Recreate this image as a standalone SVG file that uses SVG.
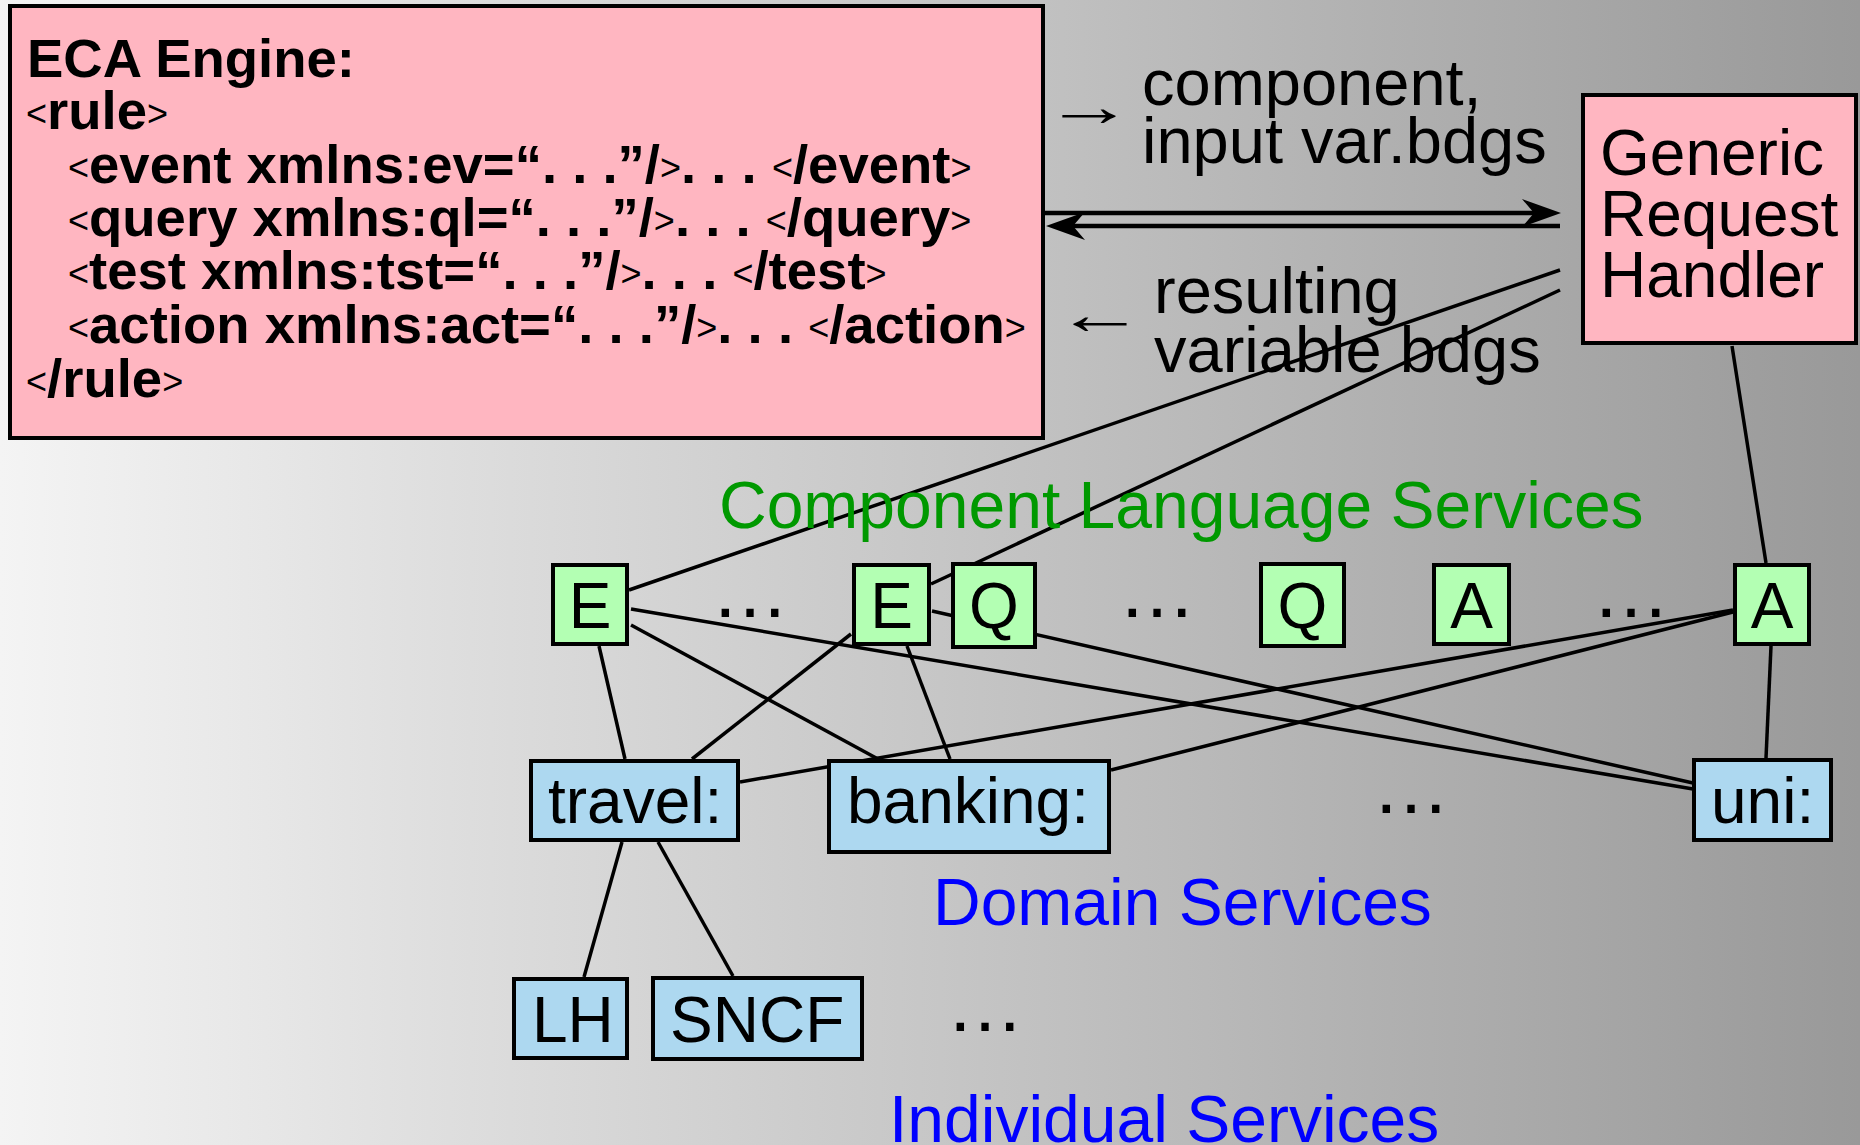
<svg xmlns="http://www.w3.org/2000/svg" width="1860" height="1145" viewBox="0 0 1860 1145">
<defs>
<linearGradient id="bg" x1="0" y1="0" x2="1" y2="0">
<stop offset="0" stop-color="#f4f4f4"/>
<stop offset="1" stop-color="#999999"/>
</linearGradient>
<style>
.box{stroke:#000;stroke-width:4}
.pink{fill:#ffb6c1}
.green{fill:#b3ffb3}
.blue{fill:#add8f0}
.t{font-family:"Liberation Sans",Arial,sans-serif;font-size:64px;fill:#000}
.c{text-anchor:middle}
.b{font-family:"Liberation Sans",Arial,sans-serif;font-size:54.5px;font-weight:bold;fill:#000}
.lt{font-weight:normal;font-size:36px}
.lbl{font-family:"Liberation Sans",Arial,sans-serif;font-size:66px}
.dots{font-family:"Liberation Sans",Arial,sans-serif;font-size:78px;fill:#000;text-anchor:middle}
.ln{stroke:#000;stroke-width:3.5;fill:none}
.arr{stroke:#000;stroke-width:4.5;fill:none}
</style>
</defs>
<rect x="0" y="0" width="1860" height="1145" fill="url(#bg)"/>

<g id="connectors">
<line class="arr" x1="1045" y1="213" x2="1540" y2="213"/>
<path d="M1561,213 L1522,199 L1534,213 L1522,227 Z" fill="#000"/>
<line class="arr" x1="1066" y1="226" x2="1560" y2="226"/>
<path d="M1046,226 L1085,212 L1073,226 L1085,240 Z" fill="#000"/>
<line class="ln" x1="1560" y1="270" x2="629" y2="590"/>
<line class="ln" x1="1560" y1="290" x2="931" y2="584"/>
<line class="ln" x1="1732" y1="346" x2="1766" y2="563"/>
<line class="ln" x1="599" y1="646" x2="625" y2="759"/>
<line class="ln" x1="631" y1="625" x2="878" y2="759"/>
<line class="ln" x1="631" y1="609" x2="1693" y2="789"/>
<line class="ln" x1="851" y1="634" x2="692" y2="759"/>
<line class="ln" x1="907" y1="646" x2="950" y2="759"/>
<line class="ln" x1="932" y1="611" x2="1693" y2="783"/>
<line class="ln" x1="1733" y1="610" x2="740" y2="782"/>
<line class="ln" x1="1733" y1="612" x2="1111" y2="770"/>
<line class="ln" x1="1771" y1="646" x2="1766" y2="758"/>
<line class="ln" x1="622" y1="842" x2="584" y2="977"/>
<line class="ln" x1="658" y1="842" x2="733" y2="976"/>
</g>

<g id="eca-engine">
<rect class="box pink" x="10" y="6" width="1033" height="432"/>
<text class="b" x="27" y="77">ECA Engine:</text>
<text class="b" x="26" y="129"><tspan class="lt" dy="-3">&lt;</tspan><tspan dy="3">rule</tspan><tspan class="lt" dy="-3">&gt;</tspan></text>
<text class="b" x="68" y="183"><tspan class="lt" dy="-3">&lt;</tspan><tspan dy="3">event xmlns:ev=“. . .”/</tspan><tspan class="lt" dy="-3">&gt;</tspan><tspan dy="3">. . . </tspan><tspan class="lt" dy="-3">&lt;</tspan><tspan dy="3">/event</tspan><tspan class="lt" dy="-3">&gt;</tspan></text>
<text class="b" x="68" y="236"><tspan class="lt" dy="-3">&lt;</tspan><tspan dy="3">query xmlns:ql=“. . .”/</tspan><tspan class="lt" dy="-3">&gt;</tspan><tspan dy="3">. . . </tspan><tspan class="lt" dy="-3">&lt;</tspan><tspan dy="3">/query</tspan><tspan class="lt" dy="-3">&gt;</tspan></text>
<text class="b" x="68" y="289"><tspan class="lt" dy="-3">&lt;</tspan><tspan dy="3">test xmlns:tst=“. . .”/</tspan><tspan class="lt" dy="-3">&gt;</tspan><tspan dy="3">. . . </tspan><tspan class="lt" dy="-3">&lt;</tspan><tspan dy="3">/test</tspan><tspan class="lt" dy="-3">&gt;</tspan></text>
<text class="b" x="68" y="343"><tspan class="lt" dy="-3">&lt;</tspan><tspan dy="3">action xmlns:act=“. . .”/</tspan><tspan class="lt" dy="-3">&gt;</tspan><tspan dy="3">. . . </tspan><tspan class="lt" dy="-3">&lt;</tspan><tspan dy="3">/action</tspan><tspan class="lt" dy="-3">&gt;</tspan></text>
<text class="b" x="26" y="397"><tspan class="lt" dy="-3">&lt;</tspan><tspan dy="3">/rule</tspan><tspan class="lt" dy="-3">&gt;</tspan></text>
</g>

<g id="arrow-labels">
<text class="t" transform="translate(1044,126) scale(1.55,1)" style="font-size:58px">→</text>
<text class="t" x="1142" y="105" style="font-size:65px">component,</text>
<text class="t" x="1142" y="163" style="font-size:65px">input var.bdgs</text>
<text class="t" transform="translate(1055,334) scale(1.55,1)" style="font-size:58px">←</text>
<text class="t" x="1154" y="313" style="font-size:65px">resulting</text>
<text class="t" x="1154" y="372" style="font-size:65px">variable bdgs</text>
</g>

<g id="generic-request-handler">
<rect class="box pink" x="1583" y="95" width="273" height="248"/>
<text class="t" x="1600" y="175">Generic</text>
<text class="t" x="1600" y="236">Request</text>
<text class="t" x="1600" y="297">Handler</text>
</g>

<text class="lbl" x="719" y="528" fill="#009900">Component Language Services</text>
<text class="lbl" x="933" y="925" fill="#0000ff">Domain Services</text>
<text class="lbl" x="889" y="1142" fill="#0000ff">Individual Services</text>

<g id="node-E1"><rect class="box green" x="553" y="565" width="74" height="79"/><text class="t c" x="590" y="628">E</text></g>
<g id="node-E2"><rect class="box green" x="854" y="565" width="75" height="79"/><text class="t c" x="891.5" y="628">E</text></g>
<g id="node-Q1"><rect class="box green" x="953" y="564" width="82" height="83"/><text class="t c" x="994" y="628">Q</text></g>
<g id="node-Q2"><rect class="box green" x="1261" y="564" width="83" height="82"/><text class="t c" x="1302.5" y="628">Q</text></g>
<g id="node-A1"><rect class="box green" x="1434" y="565" width="75" height="79"/><text class="t c" x="1471.5" y="628">A</text></g>
<g id="node-A2"><rect class="box green" x="1735" y="565" width="74" height="79"/><text class="t c" x="1772" y="628">A</text></g>

<text class="dots" x="750" y="617">…</text>
<text class="dots" x="1157" y="617">…</text>
<text class="dots" x="1631" y="617">…</text>

<g id="node-travel"><rect class="box blue" x="531" y="761" width="207" height="79"/><text class="t" x="548" y="823">travel:</text></g>
<g id="node-banking"><rect class="box blue" x="829" y="761" width="280" height="91"/><text class="t" x="847" y="823">banking:</text></g>
<g id="node-uni"><rect class="box blue" x="1694" y="760" width="137" height="80"/><text class="t" x="1711" y="823">uni:</text></g>
<text class="dots" x="1411" y="813">…</text>

<g id="node-LH"><rect class="box blue" x="514" y="979" width="113" height="79"/><text class="t" x="532" y="1042">LH</text></g>
<g id="node-SNCF"><rect class="box blue" x="653" y="978" width="209" height="81"/><text class="t" x="670" y="1042">SNCF</text></g>
<text class="dots" x="985" y="1031">…</text>
</svg>
